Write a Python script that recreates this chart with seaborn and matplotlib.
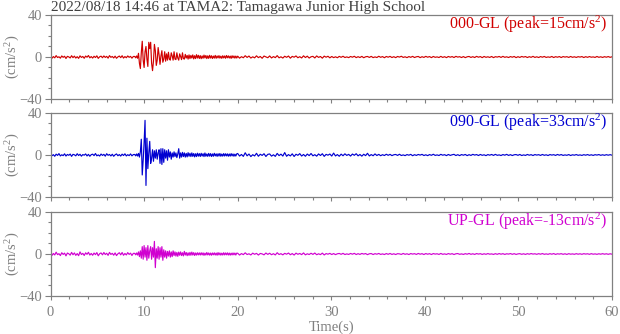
import numpy as np
import pandas as pd
import matplotlib
matplotlib.use("Agg")
import matplotlib.pyplot as plt
import seaborn as sns
from matplotlib.ticker import MultipleLocator

# ---------------- data ----------------
title = "2022/08/18 14:46 at TAMA2: Tamagawa Junior High School"
components = ["000-GL", "090-GL", "UP-GL"]
peaks = [15, 33, -13]
colors = ["#d00000", "#0000d0", "#d000d0"]

# 0 - 9 s (quiet part before the arrival)
ns_pre = [0.9, -1.2, 0.4, -0.8, 1.3, -0.5, 0.2, -1.1, 1.0, -0.3, 0.7, -1.4, 0.6, 0.1, -0.9, 1.2, -0.6, 0.8, -1.0, 0.3,
          -1.3, 1.1, -0.4, 0.5, -1.2, 0.9, -0.2, 1.4, -0.8, 0.4, -1.0, 0.7, -0.5, 1.1, -1.3, 0.2, 0.8, -0.7, 1.0, -0.4,
          0.6, -1.1, 1.3, -0.3, 0.5, -0.9, 0.8, -1.2, 0.1, 0.9, -0.6, 1.2, -1.0, 0.4, -0.7, 1.0, -0.3, 0.6, -1.1, 0.5]
ew_pre = [1.0, -0.7, 0.3, -1.2, 0.8, -0.4, 1.3, -0.9, 0.2, -0.6, 1.1, -1.0, 0.5, -0.3, 0.9, -1.3, 0.6, 0.2, -0.8, 1.2,
          -0.5, 0.7, -1.1, 0.4, -0.2, 1.0, -0.9, 0.6, -1.2, 0.3, 0.8, -0.6, 1.4, -0.8, 0.1, -1.0, 0.9, -0.4, 0.6, -1.1,
          1.2, -0.3, 0.5, -0.9, 0.7, -1.2, 0.2, 1.0, -0.7, 0.4, -1.0, 0.8, -0.5, 1.1, -0.9, 0.3, -0.6, 1.0, -0.8, 0.4]
ud_pre = [1.1, -1.4, 0.5, -0.9, 1.7, -0.6, 0.3, -1.5, 1.2, -0.4, 0.8, -1.8, 0.9, 0.2, -1.1, 1.5, -0.7, 1.0, -1.3, 0.4,
          -1.6, 2.0, -0.5, 0.6, -1.4, 1.1, -0.3, 1.6, -1.0, 0.5, -1.2, 0.9, -0.6, 1.3, -1.7, 0.3, 1.0, -0.8, 1.4, -0.5,
          0.7, -1.3, 1.5, -0.4, 0.6, -1.1, 1.0, -1.5, 0.2, 1.2, -0.8, 1.4, -1.2, 0.5, -0.9, 1.3, -0.4, 0.8, -1.4, 0.6]

# 9 - 20 s (strong motion), 0.1 s steps
ns_main = [0.5, -0.8, 1.0, -1.2, 3.5, -6, -11, 4, 15, -3,
           -10, 5, 10, -2, -9, 14, 8, 14, -6, -13,
           -4, 12, 6, -8, -3, 9, 2, -7, 1, 6,
           -5, -2, 5, -4, 3, -3, 4.5, -2, -3, 4,
           1, -3, 5, -2, -2.5, 4, -1, -3, 3, 0.5,
           -2.5, 4, -1.5, -2, 2.5, -1, 1.5, -2, 2, -1.5,
           1.5, -1, 2, -1.8, 1.2, -1.5, 2.2, -1, 1.6, -1.4,
           1.3, -1.6, 1.0, -1.2, 1.8, -0.9, 1.4, -1.5, 1.1, -1.3,
           1.6, -1.0, 1.2, -1.4, 0.9, -1.1, 1.5, -1.2, 1.0, -0.9,
           1.3, -1.1, 0.8, -1.3, 1.2, -0.9, 1.0, -1.2, 1.4, -0.8,
           1.1, -1.0, 0.9, -1.3, 1.2, -0.8, 1.0, -1.1, 0.9, -1.0]
ew_main = [0.5, -0.8, 1, -1, 1.5, -2, 3, 15, -19, -5,
           12, 33, -29, 16, -13, 2, 13, -8, -3, 5,
           -6, 4, -3, 5, -4, 2, 5, -8, 6, -9,
           6, -7, 5, -3, 4, -5, 5, -2, 3, -4,
           2, -2, 3, -1.5, 2, -2.5, 1, 6, -3, 2,
           -2, 2.5, -1.5, 2, -2, 1.5, -1.8, 2.2, -1.2, 1.6,
           -1.5, 2, -1.3, 1.4, -1.8, 1.2, -1.5, 1.7, -1.1, 1.3,
           -1.4, 1.6, -1.0, 1.2, -1.5, 1.9, -1.2, 1.0, -1.3, 1.5,
           -1.1, 1.3, -1.4, 1.0, -1.2, 1.6, -0.9, 1.1, -1.3, 1.2,
           -1.0, 1.4, -1.2, 0.9, -1.1, 1.3, -1.0, 1.2, -0.9, 1.1,
           -1.2, 1.0, -1.1, 1.3, -0.9, 1.0, -1.2, 0.8, -1.0, 1.1]
ud_main = [0.6, -0.8, 1, -1, 2, -2.5, 3, -4, 7, -5,
           8, -3, 6, -6, 8, -4, 3, 7, -5, 6,
           -3, 12, -13, 5, -4, 7, -5, 6, -3, 7,
           -6, 4, -3, 3, -4, 2.5, -2, 3, -3, 2,
           -2.5, 3, -1.5, 2, -2, 1.5, -2.2, 1.8, -1.2, 2,
           -1.5, 1.2, -1.8, 2.5, -1.0, 1.4, -1.6, 1.1, -1.3, 1.5,
           -1.2, 1.8, -1.0, 1.3, -1.4, 1.0, -1.1, 1.2, -0.9, 1.1,
           -1.0, 1.2, -0.9, 1.1, -1.3, 0.8, -1.0, 1.4, -0.9, 1.0,
           -1.1, 0.9, -1.2, 1.0, -0.8, 1.1, -1.0, 0.9, -1.2, 1.3,
           -0.9, 1.0, -1.1, 0.8, -1.0, 1.2, -0.9, 1.0, -0.8, 1.1,
           -1.0, 0.9, -1.1, 0.8, -0.9, 1.0, -0.8, 0.9, -1.0, 0.8]

# 20 - 60 s (coda)
ns_post = [0.8, -1.1, 0.3, -0.7, 1.2, -0.4, 0.9, -1.0, 0.2, -0.8, 1.1, -0.6, 0.5, -1.2, 0.9, 0.1, -0.7, 1.0, -0.9, 0.4,
           -0.6, 1.3, -0.8, 0.2, -1.0, 0.7, -0.3, 0.9, -1.1, 0.6, -0.2, 1.0, -0.7, 0.3, -0.9, 1.1, -0.5, 0.8, -1.0, 0.2,
           0.6, -0.9, 1.0, -0.4, 0.5, -1.1, 0.8, -0.2, 0.7, -0.8, 0.5, -0.6, 0.2, -0.7, 0.6, -0.3, 0.7, -0.5, 0.1, -0.6,
           0.5, -0.2, 0.7, -0.6, 0.3, -0.5, 0.6, -0.7, 0.2, 0.5, -0.4, 0.6, -0.6, 0.1, -0.5, 0.7, -0.3, 0.4, -0.7, 0.5,
           -0.2, 0.6, -0.5, 0.3, -0.6, 0.5, -0.1, 0.7, -0.4, 0.2, -0.6, 0.4, -0.3, 0.6, -0.5, 0.2, 0.5, -0.6, 0.3, -0.4,
           0.6, -0.2, 0.4, -0.6, 0.5, -0.3, 0.1, -0.5, 0.6, -0.4, 0.3, -0.6, 0.5, -0.2, 0.4, -0.5, 0.6, -0.1, 0.3, -0.5,
           0.4, -0.6, 0.2, 0.5, -0.4, 0.3, -0.5, 0.6, -0.2, 0.4, -0.6, 0.5, -0.3, 0.2, -0.4, 0.5, -0.6, 0.3, -0.1, 0.5,
           -0.4, 0.6, -0.3, 0.2, -0.5, 0.4, -0.2, 0.5, -0.6, 0.3, -0.4, 0.5, -0.1, 0.4, -0.5, 0.3, -0.3, 0.6, -0.4, 0.2,
           -0.5, 0.4, -0.2, 0.5, -0.4, 0.1, -0.3, 0.5, -0.5, 0.3, -0.2, 0.4, -0.5, 0.4, -0.1, 0.3, -0.4, 0.5, -0.3, 0.2,
           -0.4, 0.3, -0.1, 0.4, -0.5, 0.3, -0.3, 0.4, -0.2, 0.1, -0.4, 0.5, -0.3, 0.2, -0.4, 0.3, -0.2, 0.4, -0.3, 0.2]
ew_post = [1.4, -1.0, 0.5, -1.3, 2.1, -0.8, 0.9, -1.5, 0.3, -0.9, 1.6, -1.2, 0.7, -0.4, 1.2, -1.4, 0.6, 1.0, -1.1, 0.2,
           -1.3, 1.5, -0.6, 0.8, -1.0, 2.3, -1.2, 0.4, -0.9, 1.1, -1.4, 0.7, -0.3, 1.3, -1.0, 0.5, -1.2, 0.9, -0.6, 1.4,
           -0.8, 0.3, -1.1, 1.0, -0.5, 1.2, -1.3, 0.6, -0.2, 0.9, -1.0, 1.8, -0.9, 0.4, -1.2, 0.8, -0.7, 1.1, -0.4, 0.6,
           -1.0, 0.9, -0.3, 1.2, -0.8, 0.5, -1.1, 0.7, -0.6, 1.6, -0.9, 0.4, -0.7, 1.0, -0.5, 0.6, -0.7, 0.3, -0.5, 0.7,
           -0.3, 0.6, -0.6, 0.2, 0.5, -0.4, 0.7, -0.5, 0.1, -0.6, 0.4, -0.2, 0.6, -0.7, 0.3, -0.4, 0.5, -0.1, 0.6, -0.5,
           0.2, -0.6, 0.4, -0.3, 0.7, -0.4, 0.1, -0.5, 0.6, -0.2, 0.3, -0.6, 0.5, -0.4, 0.2, 0.6, -0.5, 0.3, -0.6, 0.4,
           -0.2, 0.5, -0.6, 0.3, -0.4, 0.6, -0.1, 0.4, -0.5, 0.5, -0.3, 0.2, -0.6, 0.4, -0.2, 0.5, -0.4, 0.6, -0.3, 0.1,
           -0.5, 0.4, -0.2, 0.6, -0.4, 0.3, -0.5, 0.2, 0.4, -0.3, 0.5, -0.5, 0.1, -0.4, 0.5, -0.2, 0.3, -0.5, 0.4, -0.1,
           0.3, -0.4, 0.5, -0.3, 0.2, -0.5, 0.4, -0.1, 0.3, -0.4, 0.5, -0.2, 0.4, -0.4, 0.1, -0.3, 0.4, -0.5, 0.2, -0.2,
           0.4, -0.3, 0.1, -0.4, 0.3, -0.2, 0.4, -0.3, 0.2, -0.4, 0.3, -0.1, 0.4, -0.3, 0.2, -0.3, 0.3, -0.2, 0.3, -0.2]
ud_post = [0.7, -1.0, 0.4, -0.6, 1.1, -0.5, 0.2, -0.9, 0.8, -0.3, 0.6, -1.0, 0.5, 0.1, -0.8, 0.9, -0.4, 0.7, -0.7, 0.3,
           -0.9, 1.2, -0.5, 0.3, -0.8, 0.6, -0.2, 0.9, -0.7, 0.4, -1.0, 0.8, -0.3, 0.5, -0.6, 1.0, -0.8, 0.2, -0.5, 0.7,
           -0.4, 0.9, -0.7, 0.2, -0.6, 0.8, -0.9, 0.4, -0.2, 0.6, -0.5, 0.4, -0.6, 0.2, 0.5, -0.3, 0.6, -0.5, 0.1, -0.4,
           0.5, -0.2, 0.6, -0.5, 0.3, -0.4, 0.5, -0.1, 0.4, -0.6, 0.2, 0.4, -0.5, 0.3, -0.2, 0.5, -0.4, 0.1, -0.5, 0.4,
           -0.3, 0.5, -0.4, 0.2, -0.5, 0.3, 0.1, -0.4, 0.5, -0.3, 0.2, -0.5, 0.4, -0.1, 0.3, -0.4, 0.5, -0.2, 0.3, -0.5,
           0.4, -0.2, 0.3, -0.5, 0.4, -0.1, 0.2, -0.4, 0.5, -0.3, 0.1, -0.4, 0.4, -0.2, 0.3, -0.5, 0.2, 0.4, -0.3, 0.1,
           -0.4, 0.3, -0.2, 0.5, -0.3, 0.2, -0.4, 0.4, -0.1, 0.3, -0.4, 0.2, -0.3, 0.4, -0.2, 0.1, -0.4, 0.3, -0.3, 0.4,
           -0.2, 0.3, -0.4, 0.2, -0.1, 0.4, -0.3, 0.3, -0.4, 0.1, 0.3, -0.3, 0.2, -0.4, 0.3, -0.2, 0.4, -0.1, 0.2, -0.3,
           0.3, -0.2, 0.4, -0.3, 0.1, -0.3, 0.3, -0.2, 0.4, -0.4, 0.2, -0.1, 0.3, -0.3, 0.2, -0.4, 0.3, -0.2, 0.1, -0.3,
           0.3, -0.2, 0.2, -0.3, 0.3, -0.1, 0.2, -0.3, 0.3, -0.2, 0.1, -0.3, 0.2, -0.2, 0.3, -0.2, 0.2, -0.3, 0.2, -0.2]

x_ticks = [0, 10, 20, 30, 40, 50, 60]
y_ticks = [-40, 0, 40]

# ---------------- build tables ----------------
def build(pre, main, post, name):
    t = np.concatenate([np.linspace(0, 9, len(pre), endpoint=False),
                        np.linspace(9, 20, len(main), endpoint=False),
                        np.linspace(20, 60, len(post))])
    a = np.concatenate([pre, main, post]).astype(float)
    return pd.DataFrame({"time": t, "acc": a, "comp": name})

frames = [build(ns_pre, ns_main, ns_post, components[0]),
          build(ew_pre, ew_main, ew_post, components[1]),
          build(ud_pre, ud_main, ud_post, components[2])]

# ---------------- style ----------------
sns.set_style("ticks")
plt.rcParams['font.family'] = ['Liberation Serif', 'DejaVu Serif']
plt.rcParams['mathtext.fontset'] = 'custom'
plt.rcParams['mathtext.rm'] = 'Liberation Serif'
plt.rcParams['mathtext.it'] = 'Liberation Serif'

gray = "#808080"
fig = plt.figure(figsize=(6.2, 3.34), dpi=100)
left, width, height = 0.0815, 0.9056, 0.2515
bottoms = [0.7036, 0.4102, 0.1138]

for i, (df, comp, pk, col, b) in enumerate(zip(frames, components, peaks, colors, bottoms)):
    ax = fig.add_axes([left, b, width, height])
    sns.lineplot(data=df, x="time", y="acc", ax=ax, color=col, linewidth=0.85,
                 estimator=None, sort=False)
    ax.set_xlim(0, 60)
    ax.set_ylim(-40, 40)
    ax.set_yticks(y_ticks)
    ax.yaxis.set_minor_locator(MultipleLocator(10))
    ax.set_xticks(x_ticks)
    ax.xaxis.set_minor_locator(MultipleLocator(2))
    for s in ax.spines.values():
        s.set_color(gray)
        s.set_linewidth(0.9)
    ax.tick_params(axis='both', which='both', colors=gray, labelcolor=gray,
                   labelsize=10.5, direction='out', width=0.8)
    ax.tick_params(axis='y', which='major', length=4.5, pad=1.5)
    ax.tick_params(axis='y', which='minor', length=2.5)
    ax.tick_params(axis='x', which='major', length=3, pad=4)
    ax.tick_params(axis='x', which='minor', length=2)
    ax.set_ylabel("(cm/s$^2$)", color=gray, fontsize=10.5)
    ax.yaxis.set_label_coords(-0.050, 0.5)
    if i < 2:
        ax.set_xticklabels([])
        ax.set_xlabel("")
    else:
        ax.set_xlabel("Time(s)", color=gray, fontsize=10.5, labelpad=1)
    ax.text(0.991, 0.83, f"{comp} (peak={pk}cm/s$^2$)", transform=ax.transAxes,
            ha='right', va='baseline', color=col, fontsize=11.5)

fig.text(left, 1 - 10.5 / 334, title, ha='left', va='baseline', color="#404040", fontsize=11)

fig.savefig("out.png", dpi=100)
